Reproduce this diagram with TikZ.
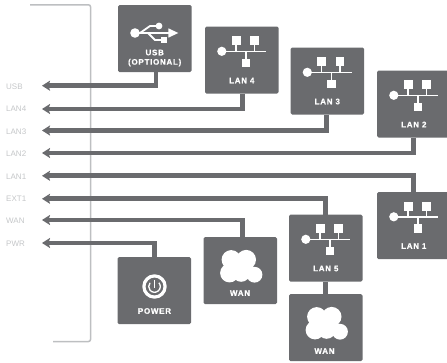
\documentclass[tikz,border=0pt]{standalone}
\usepackage{fontspec}
\setmainfont{Liberation Sans}
\newfontfamily\boxfont[LetterSpace=9,FakeBold=0.6]{Liberation Sans Bold}
\usetikzlibrary{arrows.meta,calc}
\definecolor{dev}{HTML}{6A6B6E}
\definecolor{brk}{HTML}{BDBFC1}
\definecolor{lbl}{HTML}{C4C6C8}
\tikzset{
  devbox/.style={draw=none,fill=dev,rounded corners=1.5pt,minimum width=73.5pt,minimum height=67pt,inner sep=0pt,outer sep=0pt,anchor=north west},
  boxtext/.style={text=white,font=\boxfont\fontsize{8}{10}\selectfont,inner sep=0pt,align=center},
  portlabel/.style={text=lbl,font=\fontsize{8}{9}\selectfont,inner sep=0pt,anchor=west},
  wire/.style={draw=dev,line width=4.8pt},
  tipwire/.style={wire,-{Stealth[length=8pt,width=10pt,inset=1.5pt]}},
  bracket/.style={draw=brk,line width=1.5pt,rounded corners=2pt},
  lanicon/.pic={
    \draw[white,line width=1.6pt] (31,18) -- (31,25) (49.5,18) -- (49.5,25) (40.8,25) -- (40.8,33) (17,25) -- (61,25);
    \fill[white] (16.8,24.8) circle (4.6pt);
    \fill[white] (26.8,9.8) rectangle (35.5,18.5);
    \fill[white] (45.2,9.8) rectangle (53.8,18.5);
    \fill[white] (36.5,32.2) rectangle (45.2,40.8);
  },
  wanicon/.pic={
    \fill[white] (27.7,22.7) circle (9.6pt) (42.7,22.7) circle (9.8pt) (26,36) circle (9.4pt) (37.7,36) circle (8.8pt) (51,37.7) circle (7.9pt) (28,20) rectangle (44,40);
  },
  usbicon/.pic={
    \fill[white] (17,28) circle (4.8pt);
    \draw[white,line width=1.8pt] (18,28) -- (52,28);
    \fill[white] (60.3,28) -- (50.3,23.3) -- (50.3,32.7) -- cycle;
    \draw[white,line width=1.8pt] (22,28) -- (32,21) -- (41,21);
    \fill[white] (41,21) circle (3.4pt);
    \draw[white,line width=1.8pt] (30,28) -- (37,35) -- (44,35);
    \fill[white] (43,32) rectangle (49.3,38);
  },
  powericon/.pic={
    \draw[white,line width=3.2pt] (0,0) circle (10.6pt);
    \draw[white,line width=1.3pt] (40:5.8pt) arc[start angle=40,end angle=-220,radius=5.8pt];
    \draw[white,line width=1.5pt] (0,1) -- (0,-7);
  }
}
\begin{document}
\begin{tikzpicture}[x=1pt,y=-1pt]
\useasboundingbox (0,0) rectangle (447,362);
\clip (0,0) rectangle (447,362);
% bracket
\coordinate (bA) at (30,4.8);
\coordinate (bB) at (90.5,4.8);
\coordinate (bC) at (90.5,341.5);
\coordinate (bD) at (53,341.5);
\draw[bracket] (bA) -- (bB) -- (bC) -- (bD);
% boxes
\node[devbox] (usb) at (118,5) {};
\node[devbox] (lan4) at (205,26.5) {};
\node[devbox] (lan3) at (290.5,47.5) {};
\node[devbox] (lan2) at (377,70.5) {};
\node[devbox] (lan1) at (377,192) {};
\node[devbox] (lan5) at (289,214.5) {};
\node[devbox] (wanb) at (289,294) {};
\node[devbox] (wana) at (203.5,237) {};
\node[devbox] (power) at (117.5,257) {};
% port labels
\node[portlabel] (lUSB) at (6,86.5) {USB};
\node[portlabel] (lLAN4) at (6,109) {LAN4};
\node[portlabel] (lLAN3) at (6,131.5) {LAN3};
\node[portlabel] (lLAN2) at (6,154) {LAN2};
\node[portlabel] (lLAN1) at (6,176.5) {LAN1};
\node[portlabel] (lEXT) at (6,199) {EXT1};
\node[portlabel] (lWAN) at (6,221) {WAN};
\node[portlabel] (lPWR) at (6,243.5) {PWR};
% arrow targets
\coordinate (tUSB) at (42,85.7);
\coordinate (tLAN4) at (42,109);
\coordinate (tLAN3) at (42,130.5);
\coordinate (tLAN2) at (42,153);
\coordinate (tLAN1) at (42,175.8);
\coordinate (tEXT) at (42,198.8);
\coordinate (tWAN) at (42,220);
\coordinate (tPWR) at (42,243);
% connectors
\draw[tipwire] ([xshift=1.2pt]usb.south) |- (tUSB);
\draw[tipwire] ([xshift=1pt]lan4.south) |- (tLAN4);
\draw[tipwire] ([xshift=-0.5pt]lan3.south) |- (tLAN3);
\draw[tipwire] ([xshift=-0.5pt]lan2.south) |- (tLAN2);
\draw[tipwire] ([xshift=-0.5pt]lan1.north) |- (tLAN1);
\draw[tipwire] (lan5.north) |- (tEXT);
\draw[tipwire] ([xshift=2.5pt]wana.north) |- (tWAN);
\draw[tipwire] ([xshift=0.5pt]power.north) |- (tPWR);
\draw[wire] (lan5.south) -- (wanb.north);
% icons
\pic at (usb.north west) {usbicon};
\pic at (lan4.north west) {lanicon};
\pic at (lan3.north west) {lanicon};
\pic at (lan2.north west) {lanicon};
\pic at (lan1.north west) {lanicon};
\pic at (lan5.north west) {lanicon};
\pic at (wana.north west) {wanicon};
\pic at (wanb.north west) {wanicon};
\coordinate (pc) at ($(power.north west)+(37,29.5)$);
\pic at (pc) {powericon};
% box labels
\node[boxtext] (tusb) at ($(usb.north west)+(36.7,53)$) {USB\\[-0.6pt](OPTIONAL)};
\node[boxtext] (tlan4) at ($(lan4.north west)+(36.8,54)$) {LAN 4};
\node[boxtext] (tlan3) at ($(lan3.north west)+(36.8,54)$) {LAN 3};
\node[boxtext] (tlan2) at ($(lan2.north west)+(36.8,54)$) {LAN 2};
\node[boxtext] (tlan1) at ($(lan1.north west)+(36.8,54)$) {LAN 1};
\node[boxtext] (tlan5) at ($(lan5.north west)+(36.8,54)$) {LAN 5};
\node[boxtext] (twana) at ($(wana.north west)+(36.5,56)$) {WAN};
\node[boxtext] (twanb) at ($(wanb.north west)+(35.5,57)$) {WAN};
\node[boxtext] (tpower) at ($(power.north west)+(37,54)$) {POWER};
\end{tikzpicture}
\end{document}
